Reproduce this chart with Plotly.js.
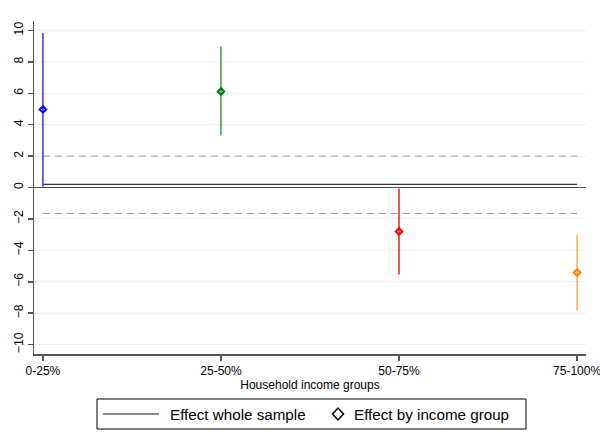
<!DOCTYPE html>
<html><head><meta charset="utf-8">
<script src="https://cdn.plot.ly/plotly-3.0.1.min.js"></script>
<style>body{margin:0;background:#fff}</style>
</head><body><div id="chart" style="width:600px;height:444px"></div>
<script>
const categories = ["0-25%", "25-50%", "50-75%", "75-100%"];
const groupEffect = [4.97, 6.11, -2.80, -5.41];
const groupLow = [0.05, 3.31, -5.54, -7.83];
const groupHigh = [9.83, 8.98, -0.06, -3.00];
const markerColors = ["#0000ff", "#007f00", "#ff0000", "#ff7f00"];
const barColors = ["#3333ff", "#3c9a3c", "#ff1a1a", "#ffaa55"];
const wholeEffect = 0.2;
const wholeLow = -1.65;
const wholeHigh = 2.0;
const yTicks = [-10, -8, -6, -4, -2, 0, 2, 4, 6, 8, 10];
const legendLabels = ["Effect whole sample", "Effect by income group"];

const xIdx = categories.map((c, i) => i);
const xEnds = [xIdx[0], xIdx[xIdx.length - 1]];
const traces = [];

traces.push({x: xEnds, y: [wholeHigh, wholeHigh], mode: 'lines', line: {color: '#999', width: 1, dash: '7px,5px'}, showlegend: false, hoverinfo: 'skip'});
traces.push({x: xEnds, y: [wholeLow, wholeLow], mode: 'lines', line: {color: '#999', width: 1, dash: '7px,5px'}, showlegend: false, hoverinfo: 'skip'});
traces.push({x: xEnds, y: [wholeEffect, wholeEffect], mode: 'lines', line: {color: '#333', width: 1.2}, name: legendLabels[0], showlegend: false});

categories.forEach((c, i) => {
  traces.push({
    x: [xIdx[i]], y: [groupEffect[i]], mode: 'markers', name: c,
    marker: {symbol: 'diamond-open', size: 5, color: markerColors[i], line: {width: 2, color: markerColors[i]}},
    error_y: {type: 'data', symmetric: false, array: [groupHigh[i] - groupEffect[i]], arrayminus: [groupEffect[i] - groupLow[i]], color: barColors[i], thickness: 1.5, width: 0},
    showlegend: false
  });
});

// legend box drawn manually (paper coordinates)
const plotL = 34, plotW = 552, plotB = 354, plotH = 333;
const px = v => (v - plotL) / plotW;
const py = v => (plotB - v) / plotH;
const legY = 414;

const shapes = [
  {type: 'rect', xref: 'paper', yref: 'paper', x0: px(97), x1: px(526), y0: py(429), y1: py(399), line: {color: '#000', width: 1}, fillcolor: 'rgba(0,0,0,0)'},
  {type: 'line', xref: 'paper', yref: 'paper', x0: px(103), x1: px(159), y0: py(legY), y1: py(legY), line: {color: '#666', width: 1.5}},
  {type: 'path', xref: 'paper', yref: 'paper', xsizemode: 'pixel', ysizemode: 'pixel', xanchor: px(338), yanchor: py(legY),
   path: 'M -5.5 0 L 0 6 L 5.5 0 L 0 -6 Z', line: {color: '#000', width: 1.5}, fillcolor: 'rgba(0,0,0,0)'}
];
const annotations = [
  {xref: 'paper', yref: 'paper', x: px(168), y: py(legY), xanchor: 'left', yanchor: 'middle', text: legendLabels[0], showarrow: false, font: {size: 15.2}},
  {xref: 'paper', yref: 'paper', x: px(352), y: py(legY), xanchor: 'left', yanchor: 'middle', text: legendLabels[1], showarrow: false, font: {size: 15.2}}
];

const layout = {
  width: 600, height: 444,
  margin: {l: 34, r: 14, t: 21, b: 90},
  paper_bgcolor: '#fff', plot_bgcolor: '#fff',
  font: {family: 'Liberation Sans, Arial, sans-serif', size: 12, color: '#000'},
  xaxis: {
    range: [-0.05, 3.05], tickvals: xIdx, ticktext: categories,
    showgrid: false, zeroline: false, showline: true, linecolor: '#555', linewidth: 1.5,
    ticks: 'outside', ticklen: 5, tickcolor: '#555', tickwidth: 1.5,
    tickfont: {size: 12}, ticklabeloverflow: 'allow',
    title: {text: 'Household income groups', font: {size: 12}, standoff: 2}
  },
  yaxis: {
    range: [-10.6, 10.6], tickvals: yTicks, tickangle: -90,
    showgrid: true, gridcolor: '#eaf0f3', gridwidth: 1,
    zeroline: true, zerolinecolor: '#555', zerolinewidth: 1,
    showline: true, linecolor: '#555', linewidth: 1.5,
    ticks: 'outside', ticklen: 5, tickcolor: '#555', tickwidth: 1.5,
    tickfont: {size: 12.3}
  },
  shapes: shapes,
  annotations: annotations,
  showlegend: false
};

Plotly.newPlot('chart', traces, layout, {displayModeBar: false, staticPlot: true});
</script></body></html>
